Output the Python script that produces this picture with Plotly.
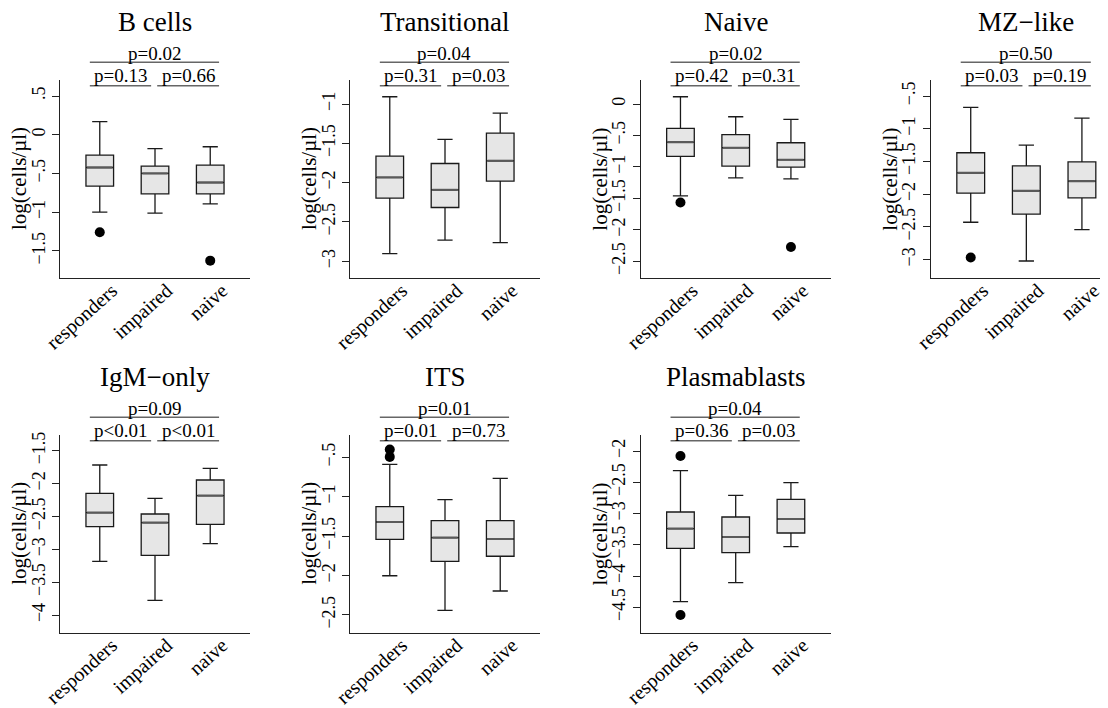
import plotly.graph_objects as go

# ---------------- data ----------------
categories = ["responders", "impaired", "naive"]
panel_titles = ["B cells", "Transitional", "Naive", "MZ\u2212like",
                "IgM\u2212only", "ITS", "Plasmablasts"]

# box statistics per panel: [responders, impaired, naive]
upper_fence = [
    [0.17, -0.18, -0.155],
    [-0.907, -1.45, -1.115],
    [0.116, -0.202, -0.244],
    [-0.673, -1.25, -0.837],
    [-1.717, -2.223, -1.767],
    [-0.589, -1.038, -0.767],
    [-2.315, -2.709, -2.507],
]
q3_values = [
    [-0.263, -0.405, -0.392],
    [-1.662, -1.756, -1.369],
    [-0.387, -0.488, -0.616],
    [-1.367, -1.566, -1.505],
    [-2.147, -2.462, -1.945],
    [-1.127, -1.304, -1.304],
    [-2.976, -3.056, -2.773],
]
median_values = [
    [-0.423, -0.50, -0.617],
    [-1.934, -2.092, -1.722],
    [-0.605, -0.695, -0.886],
    [-1.673, -1.949, -1.801],
    [-2.442, -2.594, -2.184],
    [-1.321, -1.520, -1.537],
    [-3.243, -3.376, -3.088],
]
q1_values = [
    [-0.664, -0.763, -0.763],
    [-2.197, -2.316, -1.981],
    [-0.833, -0.987, -1.003],
    [-1.985, -2.306, -2.056],
    [-2.655, -3.090, -2.619],
    [-1.541, -1.820, -1.756],
    [-3.557, -3.627, -3.312],
]
lower_fence = [
    [-1.0, -1.013, -0.893],
    [-2.902, -2.732, -2.762],
    [-1.460, -1.173, -1.189],
    [-2.429, -3.021, -2.541],
    [-3.181, -3.774, -2.913],
    [-2.003, -2.442, -2.197],
    [-4.411, -4.107, -3.531],
]

# outliers per panel: category index and value
outlier_cat = [
    [0, 2],
    [],
    [0, 2],
    [0],
    [],
    [0, 0],
    [0, 0],
]
outlier_val = [
    [-1.259, -1.626],
    [],
    [-1.565, -2.272],
    [-2.969],
    [],
    [-0.40, -0.495],
    [-2.08, -4.624],
]

# p-values: overall (responders vs naive), responders vs impaired, impaired vs naive
p_overall = ["p=0.02", "p=0.04", "p=0.02", "p=0.50", "p=0.09", "p=0.01", "p=0.04"]
p_left = ["p=0.13", "p=0.31", "p=0.42", "p=0.03", "p<0.01", "p=0.01", "p=0.36"]
p_right = ["p=0.66", "p=0.03", "p=0.31", "p=0.19", "p<0.01", "p=0.73", "p=0.03"]

y_tick_values = [
    [0.5, 0, -0.5, -1, -1.5],
    [-1, -1.5, -2, -2.5, -3],
    [0, -0.5, -1, -1.5, -2, -2.5],
    [-0.5, -1, -1.5, -2, -2.5, -3],
    [-1.5, -2, -2.5, -3, -3.5, -4],
    [-0.5, -1, -1.5, -2, -2.5],
    [-2, -2.5, -3, -3.5, -4, -4.5],
]
y_title = "log(cells/\u00b5l)"

# ---------------- layout geometry ----------------
# the page body adds an 8px margin, so the figure is drawn 8px smaller
OFF = 8
W, H = 1108 - OFF, 708 - OFF
left_px = [v - OFF for v in [60, 350, 640.7, 930.7, 60, 350, 640.7]]
right_px = [v - OFF for v in [250, 540, 830.7, 1108, 250, 540, 830.7]]
top_px = [v - OFF for v in [80, 80, 80, 80, 435, 435, 435]]
bot_px = [v - OFF for v in [278, 278, 278, 278, 632.7, 632.7, 632.7]]
y_ranges = [
    [-1.85, 0.707],
    [-3.213, -0.694],
    [-2.766, 0.382],
    [-3.281, -0.255],
    [-4.266, -1.261],
    [-2.726, -0.217],
    [-4.907, -1.744],
]
x_ranges = [[-0.72, 2.72]] * 3 + [[-0.72, 2.469]] + [[-0.72, 2.72]] * 3
BOX_W = 0.5

FONT = "Liberation Serif"


def fmt(v):
    if v == 0:
        return "0"
    s = ("%g" % abs(v))
    if s.startswith("0."):
        s = s[1:]
    return ("\u2212" if v < 0 else "") + s


fig = go.Figure()
layout = dict(
    template="none",
    width=W, height=H,
    margin=dict(l=0, r=0, t=0, b=0, pad=0),
    paper_bgcolor="white", plot_bgcolor="white",
    showlegend=False,
    font=dict(family=FONT, color="black"),
)
shapes = []
annotations = []

for i in range(7):
    k = i + 1
    xa = "x" if k == 1 else f"x{k}"
    ya = "y" if k == 1 else f"y{k}"
    xkey = "xaxis" if k == 1 else f"xaxis{k}"
    ykey = "yaxis" if k == 1 else f"yaxis{k}"
    ph = bot_px[i] - top_px[i]

    fig.add_trace(go.Box(
        x=[0, 1, 2],
        q1=q1_values[i], median=median_values[i], q3=q3_values[i],
        lowerfence=lower_fence[i], upperfence=upper_fence[i],
        boxpoints=False, width=BOX_W, whiskerwidth=0.55,
        fillcolor="#e6e6e6",
        line=dict(color="#1a1a1a", width=1.3),
        xaxis=xa, yaxis=ya, hoverinfo="skip",
    ))
    # grey, thicker median lines drawn over the boxes
    mx, my = [], []
    for c, m in enumerate(median_values[i]):
        mx += [c - BOX_W / 2 + 0.02, c + BOX_W / 2 - 0.02, None]
        my += [m, m, None]
    fig.add_trace(go.Scatter(
        x=mx, y=my, mode="lines", line=dict(color="#5a5a5a", width=2.2),
        xaxis=xa, yaxis=ya, hoverinfo="skip",
    ))
    if outlier_val[i]:
        fig.add_trace(go.Scatter(
            x=outlier_cat[i], y=outlier_val[i], mode="markers",
            marker=dict(color="black", size=10),
            xaxis=xa, yaxis=ya, hoverinfo="skip",
        ))

    layout[xkey] = dict(
        domain=[left_px[i] / W, right_px[i] / W],
        range=x_ranges[i], anchor=ya, automargin=False,
        showline=True, linecolor="#222", linewidth=1.2,
        showgrid=False, zeroline=False, ticks="",
        tickmode="array", tickvals=[0, 1, 2], ticktext=categories,
        tickangle=-42, tickfont=dict(family=FONT, size=20, color="black"),
        ticklabelshift=12, ticklabelstandoff=-8,
    )
    layout[ykey] = dict(
        domain=[1 - bot_px[i] / H, 1 - top_px[i] / H],
        range=y_ranges[i], anchor=xa, automargin=False,
        showline=True, linecolor="#222", linewidth=1.2,
        showgrid=False, zeroline=False,
        ticks="outside", ticklen=7, tickwidth=1.2, tickcolor="#222",
        tickmode="array", tickvals=y_tick_values[i],
        ticktext=[fmt(v) for v in y_tick_values[i]],
        tickangle=-90, tickfont=dict(family=FONT, size=18, color="black"),
    )

    ydom = f"{ya} domain"

    def yd(px_above_top):
        return 1 + px_above_top / ph

    # title
    annotations.append(dict(
        text=panel_titles[i], xref=xa, yref=ydom, x=1, y=yd(58),
        xanchor="center", yanchor="middle", showarrow=False,
        font=dict(family=FONT, size=27, color="black"),
    ))
    # y-axis title
    annotations.append(dict(
        text=y_title, xref=f"{xa} domain", yref=ydom, x=0, y=0.5,
        xshift=-41, textangle=-90, xanchor="center", yanchor="middle",
        showarrow=False, font=dict(family=FONT, size=21, color="black"),
    ))
    # p-value brackets
    line_style = dict(color="#666666", width=1.5)
    for (x0, x1, yy) in [(-0.18, 2.16, 17.7), (-0.18, 0.93, -5.7), (1.04, 2.16, -5.7)]:
        shapes.append(dict(type="line", xref=xa, yref=ydom,
                           x0=x0, x1=x1, y0=yd(yy), y1=yd(yy), line=line_style))
    for txt, xx, yy in [(p_overall[i], 0.99, 27), (p_left[i], 0.375, 4.5), (p_right[i], 1.6, 4.5)]:
        annotations.append(dict(
            text=txt, xref=xa, yref=ydom, x=xx, y=yd(yy),
            xanchor="center", yanchor="middle", showarrow=False,
            font=dict(family=FONT, size=19, color="black"),
        ))

layout["shapes"] = shapes
layout["annotations"] = annotations
fig.update_layout(**layout)
fig.write_html("out.html")
